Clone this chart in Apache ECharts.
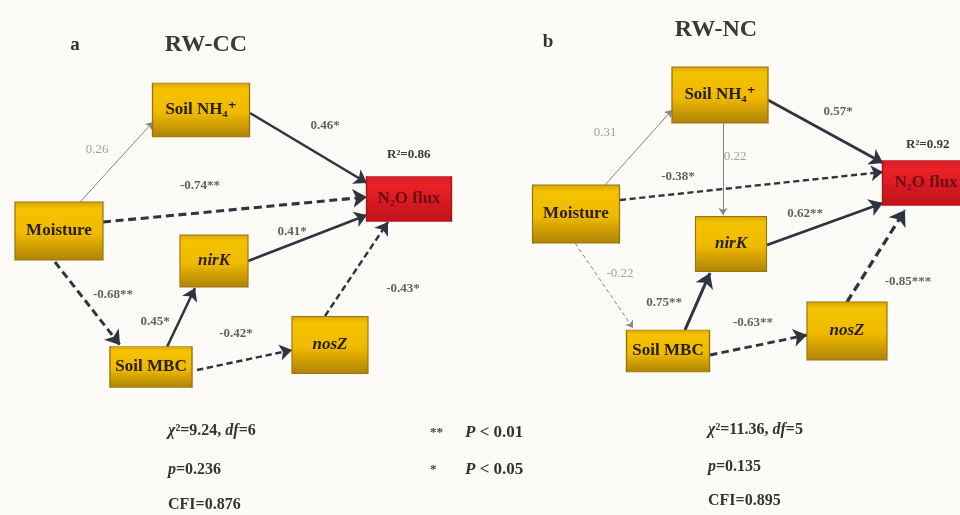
<!DOCTYPE html>
<html>
<head>
<meta charset="utf-8">
<script src="https://cdn.jsdelivr.net/npm/echarts@6/dist/echarts.min.js"></script>
<style>
  html, body { margin: 0; padding: 0; background: #fcfbf8; }
  #chart { width: 960px; height: 515px; }
</style>
</head>
<body>
<div id="chart"></div>
<script>
// ---- Model data -------------------------------------------------------
const variables = ['Moisture', 'Soil NH4+', 'nirK', 'Soil MBC', 'nosZ', 'N2O flux'];
const panelLetters = ['a', 'b'];
const panelTitles = ['RW-CC', 'RW-NC'];

// Panel a (RW-CC) standardized path coefficients
const pathFromA = ['Moisture', 'Moisture', 'Soil NH4+', 'nirK', 'nosZ', 'Moisture', 'Soil MBC', 'Soil MBC'];
const pathToA   = ['Soil NH4+', 'N2O flux', 'N2O flux', 'N2O flux', 'N2O flux', 'Soil MBC', 'nirK', 'nosZ'];
const coefA     = [0.26, -0.74, 0.46, 0.41, -0.43, -0.68, 0.45, -0.42];
const sigA      = ['', '**', '*', '*', '*', '**', '*', '*'];

// Panel b (RW-NC) standardized path coefficients
const pathFromB = ['Moisture', 'Soil NH4+', 'Soil NH4+', 'Moisture', 'nirK', 'nosZ', 'Moisture', 'Soil MBC', 'Soil MBC'];
const pathToB   = ['Soil NH4+', 'nirK', 'N2O flux', 'N2O flux', 'N2O flux', 'N2O flux', 'Soil MBC', 'nirK', 'nosZ'];
const coefB     = [0.31, 0.22, 0.57, -0.38, 0.62, -0.85, -0.22, 0.75, -0.63];
const sigB      = ['', '', '*', '*', '**', '***', '', '**', '**'];

// Explained variance of N2O flux and model fit
const rSquared = [0.86, 0.92];
const chiSq    = [9.24, 11.36];
const dfFit    = [6, 5];
const pFit     = [0.236, 0.135];
const cfiFit   = [0.876, 0.895];

// Significance key
const sigMarks  = ['**', '*'];
const sigLevels = [0.01, 0.05];

// ---- Diagram layout (axis units = pixels) -------------------------------
const layout = [
  {
    letter: [75, 45], title: [206, 45],
    nodes: {
      'Moisture':  [59, 231, 88, 58],
      'Soil NH4+': [201, 110, 97, 54],
      'nirK':      [214, 261, 68, 52],
      'Soil MBC':  [151, 367, 82, 41],
      'nosZ':      [330, 345, 76, 57],
      'N2O flux':  [409, 199, 85, 45]
    },
    // start / end anchor offsets from the node centres, one pair per path
    ports: [
      [[21, -29], [-48, 12]],
      [[44, -9], [-42, -2]],
      [[49, 3], [-42, -16]],
      [[34, 0], [-42, 16]],
      [[-5, -29], [-21, 23]],
      [[-4, 31], [-31, -22]],
      [[16, -20], [-19, 27]],
      [[46, 3], [-38, 5]]
    ],
    labels: [[97, 150], [200, 186], [325, 126], [292, 232], [403, 289], [113, 295], [155, 322], [236, 334]],
    r2: [387, 155],
    stats: [168, [431, 470, 505]]
  },
  {
    letter: [548, 42], title: [716, 30],
    nodes: {
      'Moisture':  [576, 214, 87, 58],
      'Soil NH4+': [720, 95, 96, 56],
      'nirK':      [731, 244, 71, 55],
      'Soil MBC':  [668, 351, 83, 42],
      'nosZ':      [847, 331, 80, 58],
      'N2O flux':  [926, 183, 87, 45]
    },
    ports: [
      [[29, -29], [-48, 15]],
      [[3, 28], [-8, -29]],
      [[48, 5], [-43, -20]],
      [[44, -14], [-43, -11]],
      [[36, 1], [-43, 20]],
      [[0, -29], [-21, 27]],
      [[-1, 29], [-35, -23]],
      [[17, -21], [-21, 29]],
      [[42, 4], [-40, 4]]
    ],
    labels: [[605, 133], [735, 157], [838, 112], [678, 177], [805, 214], [908, 282], [620, 274], [664, 303], [753, 323]],
    r2: [906, 145],
    stats: [708, [430, 467, 501]]
  }
];
const keyPos = [430, [433, 470]];

// ---- Helpers ------------------------------------------------------------
const SERIF = '"Liberation Serif", "DejaVu Serif", serif';
const nodeText = {
  'Moisture': 'Moisture',
  'Soil NH4+': 'Soil NH₄⁺',
  'nirK': '{it|nirK}',
  'Soil MBC': 'Soil MBC',
  'nosZ': '{it|nosZ}',
  'N2O flux': 'N₂O flux'
};
const yellowFill = {
  type: 'linear', x: 0, y: 0, x2: 0, y2: 1,
  colorStops: [
    { offset: 0, color: '#d6a406' },
    { offset: 0.12, color: '#f5c300' },
    { offset: 0.55, color: '#efb900' },
    { offset: 1, color: '#ad8208' }
  ]
};
const redFill = {
  type: 'linear', x: 0, y: 0, x2: 0, y2: 1,
  colorStops: [
    { offset: 0, color: '#d41c24' },
    { offset: 0.2, color: '#ea2128' },
    { offset: 1, color: '#bf121a' }
  ]
};
function fmtCoef(c, s) {
  return (c < 0 ? '-' : '') + Math.abs(c).toFixed(2) + s;
}
function italicRich(size) {
  return { i: { fontStyle: 'italic', fontWeight: 'bold', fontSize: size, fontFamily: SERIF, fill: '#333' } };
}

const panels = [
  { from: pathFromA, to: pathToA, coef: coefA, sig: sigA },
  { from: pathFromB, to: pathToB, coef: coefB, sig: sigB }
];

const nodeData = [];
const edgeData = [];
const textData = [];
const graphics = [];

panels.forEach(function (p, k) {
  const L = layout[k];
  variables.forEach(function (v) {
    const n = L.nodes[v];
    const isOut = v === 'N2O flux';
    nodeData.push({
      name: v,
      value: [n[0], n[1]],
      symbolSize: [n[2], n[3]],
      itemStyle: {
        color: isOut ? redFill : yellowFill,
        borderColor: isOut ? '#a8141a' : '#9a740a',
        borderWidth: 1,
        opacity: 1
      },
      label: {
        formatter: nodeText[v],
        color: isOut ? '#6e0c10' : '#2a2004'
      }
    });
  });

  p.coef.forEach(function (c, i) {
    const a = L.nodes[p.from[i]];
    const b = L.nodes[p.to[i]];
    const pt = L.ports[i];
    const significant = p.sig[i] !== '';
    const w = significant ? 1.6 + 2 * Math.abs(c) : 1;
    const dash = c < 0 ? (significant ? [w * 2.6, w * 1.5] : [4, 3]) : 'solid';
    edgeData.push({
      coords: [[a[0] + pt[0][0], a[1] + pt[0][1]], [b[0] + pt[1][0], b[1] + pt[1][1]]],
      lineStyle: {
        color: significant ? '#2f3540' : '#858585',
        width: w,
        type: dash,
        opacity: 1
      },
      symbolSize: significant ? 5 + 3 * w : 7
    });
    textData.push({
      value: L.labels[i],
      label: {
        formatter: fmtCoef(c, p.sig[i]),
        color: significant ? '#3a3a3a' : '#8a8a8a',
        fontWeight: significant ? 'bold' : 'normal'
      }
    });
  });

  // panel letter and title
  graphics.push({
    type: 'text', x: L.letter[0], y: L.letter[1],
    style: { text: panelLetters[k], font: 'bold 19px ' + SERIF, fill: '#333', align: 'center', verticalAlign: 'middle' }
  });
  graphics.push({
    type: 'text', x: L.title[0], y: L.title[1],
    style: { text: panelTitles[k], font: 'bold 24px ' + SERIF, fill: '#3a3a3a', align: 'center', verticalAlign: 'middle' }
  });
  // R² of N2O flux
  graphics.push({
    type: 'text', x: L.r2[0], y: L.r2[1],
    style: { text: 'R²=' + rSquared[k].toFixed(2), font: 'bold 13px ' + SERIF, fill: '#3a3a3a', verticalAlign: 'middle' }
  });
  // model fit
  const s = L.stats;
  const lines = [
    '{i|χ}²=' + chiSq[k].toFixed(2) + ', {i|df}=' + dfFit[k],
    '{i|p}=' + pFit[k].toFixed(3),
    'CFI=' + cfiFit[k].toFixed(3)
  ];
  lines.forEach(function (t, j) {
    graphics.push({
      type: 'text', x: s[0], y: s[1][j],
      style: { text: t, font: 'bold 16px ' + SERIF, fill: '#333', verticalAlign: 'middle', rich: italicRich(16) }
    });
  });
});

// significance key
sigMarks.forEach(function (m, i) {
  graphics.push({
    type: 'text', x: keyPos[0], y: keyPos[1][i],
    style: { text: m, font: 'bold 13px ' + SERIF, fill: '#444', verticalAlign: 'middle' }
  });
  graphics.push({
    type: 'text', x: keyPos[0] + 35, y: keyPos[1][i],
    style: {
      text: '{i|P} < ' + sigLevels[i].toFixed(2),
      font: 'bold 17px ' + SERIF, fill: '#333', verticalAlign: 'middle', rich: italicRich(17)
    }
  });
});

const chart = echarts.init(document.getElementById('chart'), null, { renderer: 'canvas' });
chart.setOption({
  backgroundColor: '#fcfbf8',
  animation: false,
  grid: { left: 0, right: 0, top: 0, bottom: 0 },
  xAxis: { type: 'value', min: 0, max: 960, show: false },
  yAxis: { type: 'value', min: 0, max: 515, inverse: true, show: false },
  graphic: graphics,
  series: [
    {
      type: 'lines',
      coordinateSystem: 'cartesian2d',
      symbol: ['none', 'arrow'],
      z: 2,
      silent: true,
      data: edgeData
    },
    {
      type: 'scatter',
      symbol: 'rect',
      z: 3,
      silent: true,
      itemStyle: { opacity: 1 },
      label: {
        show: true,
        position: 'inside',
        fontFamily: SERIF,
        fontWeight: 'bold',
        fontSize: 17,
        rich: { it: { fontStyle: 'italic', fontWeight: 'bold', fontSize: 17, fontFamily: SERIF, color: '#2a2004' } }
      },
      data: nodeData
    },
    {
      type: 'scatter',
      symbolSize: 0,
      z: 4,
      silent: true,
      label: { show: true, position: 'inside', fontFamily: SERIF, fontSize: 13 },
      data: textData
    }
  ]
});
</script>
</body>
</html>
